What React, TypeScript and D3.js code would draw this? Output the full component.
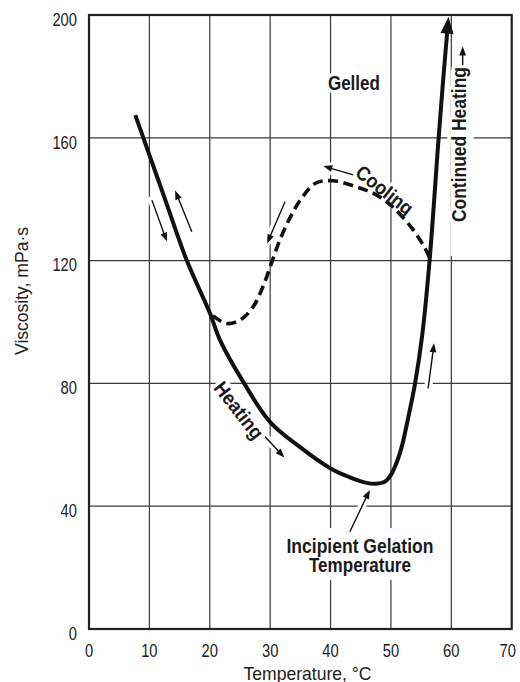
import React from "react";
import * as d3 from "d3";

// ---- data ----
const xTicks = [0, 10, 20, 30, 40, 50, 60, 70];
const yTicks = [0, 40, 80, 120, 160, 200];

const heatingTemp = [7.66, 9.0, 12.5, 16.2, 20, 21.7, 25.7, 30, 34.9, 40, 43.1, 46, 47.5, 49, 50, 51, 51.8, 52.9, 54.0, 55.2, 56.4, 57.9, 58.7, 59.45];
const heatingVisc = [167.4, 160, 140.5, 120, 103, 94.1, 80, 67.4, 59.3, 52.3, 49.5, 47.6, 47.3, 48, 50.2, 54.5, 59.4, 69.2, 80, 96, 120, 160, 180, 197.5];

const coolingTemp = [56.4, 55.5, 53.7, 50.3, 47.6, 44.3, 40.4, 37.5, 35.2, 33.3, 31.6, 30.2, 28.8, 27.2, 25, 22.8, 20.9, 20];
const coolingVisc = [121, 124.5, 130, 137.5, 141.4, 144, 146, 145.2, 140.3, 134, 126.7, 119.1, 111.5, 105, 100.6, 99.5, 101.5, 103];

// annotation arrows (data units): from -> to
const arrowX1 = [10.42, 17.03, 43.76, 32.46, 29.15, 56.16, 43.2, 61.88];
const arrowY1 = [139.7, 129.4, 147.9, 139.2, 62.6, 78.4, 31.7, 183.7];
const arrowX2 = [12.9, 14.27, 38.8, 29.5, 32.35, 57.15, 46.5, 61.88];
const arrowY2 = [126.2, 142.8, 150.8, 125.6, 55.9, 93.1, 45.3, 189.7];

// labels (data units, centre of letters)
const labelText = ["Gelled", "Cooling", "Heating", "Continued Heating", "Incipient Gelation", "Temperature"];
const labelX = [43.87, 48.99, 24.86, 61.3, 44.87, 44.87];
const labelY = [177.8, 143.0, 71.3, 157.8, 27.1, 20.9];
const labelAngle = [0, 38, 52, -90, 0, 0];
const labelLength = [52, 67, 67, 155, 147, 102];

const xTitle = "Temperature, °C";
const yTitle = "Viscosity, mPa·s";

const W = 520;
const H = 682;
const FONT = "'Liberation Sans', Arial, Helvetica, sans-serif";
const DIGIT = 8.2;

export default function App() {
  const x = d3.scaleLinear().domain([0, 70]).range([89, 511.7]);
  const y = d3.scaleLinear().domain([0, 200]).range([629, 15]);

  const heatPts: [number, number][] = heatingTemp.map((t, i) => [x(t), y(heatingVisc[i])]);
  const coolPts: [number, number][] = coolingTemp.map((t, i) => [x(t), y(coolingVisc[i])]);
  const line = d3.line().curve(d3.curveCatmullRom.alpha(0.5));
  const heatPath = line(heatPts) || "";
  const coolPath = line(coolPts) || "";

  // main arrowhead at top of heating curve
  const n = heatPts.length;
  const [ex, ey] = heatPts[n - 1];
  const [px, py] = heatPts[n - 2];
  const ang = Math.atan2(ey - py, ex - px);
  const tipX = ex + 6 * Math.cos(ang);
  const tipY = ey + 6 * Math.sin(ang);
  const headLen = 17;
  const headHW = 6.5;
  const bX = tipX - headLen * Math.cos(ang);
  const bY = tipY - headLen * Math.sin(ang);
  const mainHead = [
    [tipX, tipY],
    [bX + headHW * Math.sin(ang), bY - headHW * Math.cos(ang)],
    [bX - headHW * Math.sin(ang), bY + headHW * Math.cos(ang)],
  ]
    .map((p) => p.join(","))
    .join(" ");

  const arrows = arrowX1.map((_, i) => {
    const x1 = x(arrowX1[i]);
    const y1 = y(arrowY1[i]);
    const x2 = x(arrowX2[i]);
    const y2 = y(arrowY2[i]);
    const a = Math.atan2(y2 - y1, x2 - x1);
    const hl = 9;
    const hw = 3.4;
    const bx = x2 - hl * Math.cos(a);
    const by = y2 - hl * Math.sin(a);
    const head = [
      [x2, y2],
      [bx + hw * Math.sin(a), by - hw * Math.cos(a)],
      [bx - hw * Math.sin(a), by + hw * Math.cos(a)],
    ]
      .map((p) => p.join(","))
      .join(" ");
    return { x1, y1, x2: bx + 1 * Math.cos(a), y2: by + 1 * Math.sin(a), head };
  });

  const labels = labelText.map((t, i) => ({
    t,
    x: x(labelX[i]),
    y: y(labelY[i]),
    a: labelAngle[i],
    len: labelLength[i],
  }));

  const labelNodes = (halo: boolean) =>
    labels.map((l, i) => (
      <text
        key={i}
        transform={`translate(${l.x},${l.y}) rotate(${l.a})`}
        textAnchor="middle"
        dy="0.36em"
        fontFamily={FONT}
        fontWeight="bold"
        fontSize={20}
        textLength={l.len}
        lengthAdjust="spacingAndGlyphs"
        fill={halo ? "#fff" : "#1a1a1a"}
        stroke={halo ? "#fff" : "none"}
        strokeWidth={halo ? 7 : 0}
        strokeLinejoin="round"
      >
        {l.t}
      </text>
    ));

  return (
    <svg
      width={W}
      height={H}
      style={{ position: "absolute", left: 0, top: 0, background: "#fff" }}
    >
      <rect x={0} y={0} width={W} height={H} fill="#fff" />
      {/* grid */}
      {xTicks.slice(1, -1).map((t) => (
        <line key={"gx" + t} x1={x(t)} x2={x(t)} y1={y(0)} y2={y(200)} stroke="#3a3a3a" strokeWidth={1.2} />
      ))}
      {yTicks.slice(1, -1).map((t) => (
        <line key={"gy" + t} x1={x(0)} x2={x(70)} y1={y(t)} y2={y(t)} stroke="#3a3a3a" strokeWidth={1.2} />
      ))}

      {/* knock-out boxes behind labels */}
      <rect x={x(59.9)} y={y(182)} width={x(63.7) - x(59.9)} height={y(121.5) - y(182)} fill="#fff" />
      <rect x={x(32.5)} y={y(32.9)} width={x(57.5) - x(32.5)} height={y(16.0) - y(32.9)} fill="#fff" />

      {/* arrow halos */}
      {arrows.map((a, i) => (
        <g key={"ah" + i}>
          <line x1={a.x1} y1={a.y1} x2={a.x2} y2={a.y2} stroke="#fff" strokeWidth={8} strokeLinecap="round" />
          <polygon points={a.head} fill="#fff" stroke="#fff" strokeWidth={6} strokeLinejoin="round" />
        </g>
      ))}
      {labelNodes(true)}

      {/* frame */}
      <rect x={x(0)} y={y(200)} width={x(70) - x(0)} height={y(0) - y(200)} fill="none" stroke="#222" strokeWidth={2.2} />

      {/* curves */}
      <path d={coolPath} fill="none" stroke="#111" strokeWidth={3.6} strokeDasharray="10,5.5" />
      <path d={heatPath} fill="none" stroke="#111" strokeWidth={4} strokeLinejoin="round" />
      <polygon points={mainHead} fill="#111" />

      {/* arrows */}
      {arrows.map((a, i) => (
        <g key={"ar" + i}>
          <line x1={a.x1} y1={a.y1} x2={a.x2} y2={a.y2} stroke="#111" strokeWidth={1.4} />
          <polygon points={a.head} fill="#111" />
        </g>
      ))}
      {labelNodes(false)}

      {/* tick labels */}
      {yTicks.map((t) => (
        <text
          key={"yt" + t}
          x={77}
          y={y(t) + 10.7}
          textAnchor="end"
          fontFamily={FONT}
          fontSize={18.5}
          textLength={String(t).length * DIGIT}
          lengthAdjust="spacingAndGlyphs"
          fill="#222"
        >
          {t}
        </text>
      ))}
      {xTicks.map((t) => {
        const half = (String(t).length * DIGIT) / 2;
        return (
          <text
            key={"xt" + t}
            x={Math.min(x(t), W - 4 - half)}
            y={656.8}
            textAnchor="middle"
            fontFamily={FONT}
            fontSize={18.5}
            textLength={half * 2}
            lengthAdjust="spacingAndGlyphs"
            fill="#222"
          >
            {t}
          </text>
        );
      })}

      {/* axis titles */}
      <text
        x={307.5}
        y={679.5}
        textAnchor="middle"
        fontFamily={FONT}
        fontSize={18.5}
        textLength={128}
        lengthAdjust="spacingAndGlyphs"
        fill="#222"
      >
        {xTitle}
      </text>
      <text
        transform={`translate(27.5,291) rotate(-90)`}
        textAnchor="middle"
        fontFamily={FONT}
        fontSize={18.5}
        textLength={128}
        lengthAdjust="spacingAndGlyphs"
        fill="#222"
      >
        {yTitle}
      </text>
    </svg>
  );
}
